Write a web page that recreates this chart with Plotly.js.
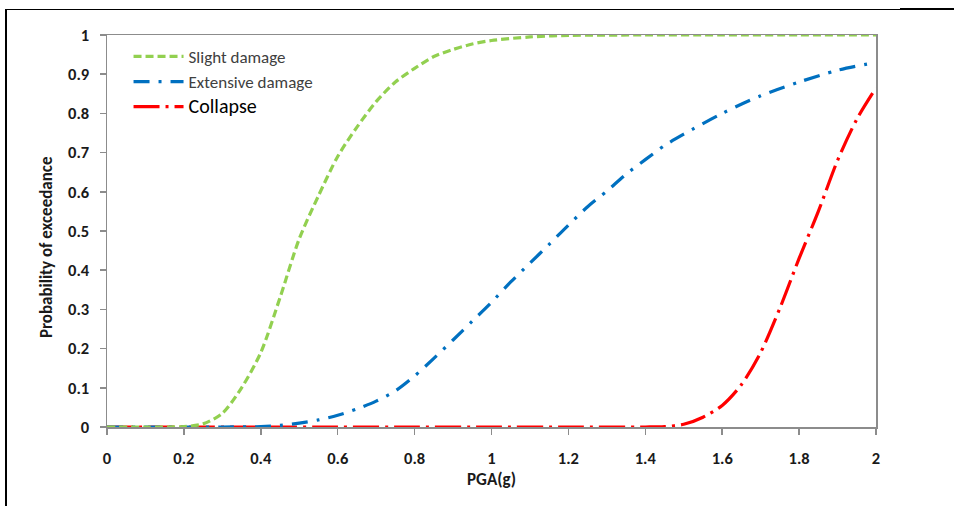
<!DOCTYPE html>
<html>
<head>
<meta charset="utf-8">
<script src="https://cdn.plot.ly/plotly-3.0.1.min.js"></script>
<style>
  html, body { margin: 0; padding: 0; background: #fff; }
  #wrap { position: relative; width: 954px; height: 506px; }
  #chart { position: absolute; left: 0; top: 0; width: 954px; height: 506px; }
  #frameL { position: absolute; left: 5px; top: 9px; width: 0; height: 497px; border-left: 2px solid #000; }
  #frameT { position: absolute; left: 5px; top: 9px; width: 895px; height: 0; border-top: 1px solid #000; }
  #frameT2 { position: absolute; left: 900px; top: 8px; width: 54px; height: 0; border-top: 2px solid #000; }
</style>
</head>
<body>
<div id="wrap">
  <div id="chart"></div>
  <div id="frameL"></div>
  <div id="frameT"></div>
  <div id="frameT2"></div>
</div>
<script>
// PGA values (g) and probabilities of exceedance
const slightX = [0, 0.1, 0.2, 0.25, 0.3, 0.35, 0.4, 0.45, 0.5, 0.55, 0.6, 0.65, 0.7, 0.75, 0.8, 0.85, 0.9, 0.95, 1.0, 1.1, 1.2, 1.4, 1.6, 1.8, 2.0];
const slightY = [0, 0, 0.001, 0.008, 0.035, 0.1, 0.19, 0.33, 0.48, 0.59, 0.69, 0.765, 0.83, 0.88, 0.915, 0.945, 0.963, 0.977, 0.986, 0.995, 0.999, 1, 1, 1, 1];

const extX = [0, 0.3, 0.4, 0.45, 0.5, 0.55, 0.6, 0.65, 0.7, 0.75, 0.8, 0.85, 0.9, 0.95, 1.0, 1.05, 1.1, 1.15, 1.2, 1.25, 1.3, 1.35, 1.4, 1.45, 1.5, 1.6, 1.7, 1.8, 1.9, 2.0];
const extY = [0, 0, 0.001, 0.004, 0.01, 0.018, 0.03, 0.046, 0.066, 0.092, 0.13, 0.175, 0.222, 0.27, 0.318, 0.37, 0.418, 0.466, 0.515, 0.562, 0.602, 0.645, 0.682, 0.718, 0.747, 0.8, 0.845, 0.88, 0.91, 0.93];

const colX = [0, 0.2, 0.4, 0.6, 0.8, 1.0, 1.2, 1.4, 1.45, 1.5, 1.55, 1.6, 1.65, 1.7, 1.75, 1.8, 1.85, 1.9, 1.95, 2.0];
const colY = [0, 0, 0, 0, 0, 0, 0, 0, 0.001, 0.007, 0.025, 0.055, 0.108, 0.19, 0.303, 0.43, 0.55, 0.68, 0.785, 0.865];

const seriesNames = ['Slight damage', 'Extensive damage', '<span style="font-size:20px;fill:#000">Collapse</span>'];
const xTicks = [0, 0.2, 0.4, 0.6, 0.8, 1, 1.2, 1.4, 1.6, 1.8, 2];
const yTicks = [0, 0.1, 0.2, 0.3, 0.4, 0.5, 0.6, 0.7, 0.8, 0.9, 1];
const xTitle = 'PGA(g)';
const yTitle = 'Probability of exceedance';

const FONT = "Carlito, 'Liberation Sans Narrow', 'Open Sans', sans-serif";

const traces = [
  { x: colX, y: colY, name: seriesNames[2], mode: 'lines',
    line: { color: '#FF0000', width: 3.2, dash: '26px,6px,3px,6px', shape: 'spline', smoothing: 0.8 } },
  { x: extX, y: extY, name: seriesNames[1], mode: 'lines',
    line: { color: '#0070C0', width: 3.2, dash: '16px,9px,3px,9px', shape: 'spline', smoothing: 0.8 } },
  { x: slightX, y: slightY, name: seriesNames[0], mode: 'lines',
    line: { color: '#92D050', width: 3.2, dash: '8px,4px', shape: 'spline', smoothing: 0.8 } }
];

const layout = {
  width: 954, height: 506,
  margin: { l: 107, r: 78, t: 35, b: 79 },
  paper_bgcolor: '#fff', plot_bgcolor: '#fff',
  showlegend: true,
  legend: {
    x: 0.028, y: 0.99, xanchor: 'left', yanchor: 'top',
    traceorder: 'reversed', itemwidth: 50,
    font: { family: FONT, size: 17, color: '#404040' },
    bgcolor: 'rgba(0,0,0,0)', tracegroupgap: 0
  },
  xaxis: {
    range: [0, 2], tickvals: xTicks, ticktext: xTicks.map(String),
    showgrid: false, zeroline: false,
    showline: true, linecolor: '#8c8c8c', linewidth: 1.5, mirror: true,
    ticks: 'outside', ticklen: 6, tickcolor: '#8c8c8c', tickwidth: 1.5,
    ticklabelstandoff: 10,
    tickfont: { family: FONT, size: 16.5, color: '#1a1a1a', weight: 'bold' },
    title: { text: xTitle, font: { family: FONT, size: 17, color: '#1a1a1a', weight: 'bold' }, standoff: 6 }
  },
  yaxis: {
    range: [0, 1], tickvals: yTicks, ticktext: yTicks.map(String),
    showgrid: false, zeroline: false,
    showline: true, linecolor: '#8c8c8c', linewidth: 1.5, mirror: true,
    ticks: 'outside', ticklen: 6, tickcolor: '#8c8c8c', tickwidth: 1.5,
    ticklabelstandoff: 7,
    tickfont: { family: FONT, size: 16.5, color: '#1a1a1a', weight: 'bold' },
    title: { text: '' }
  },
  annotations: [{
    text: yTitle, textangle: -90, showarrow: false,
    xref: 'paper', yref: 'paper', x: -0.0793, y: 0.459,
    xanchor: 'center', yanchor: 'middle',
    font: { family: FONT, size: 17, color: '#1a1a1a', weight: 'bold' }
  }]
};

Plotly.newPlot('chart', traces, layout, { staticPlot: true, displayModeBar: false });
</script>
</body>
</html>
